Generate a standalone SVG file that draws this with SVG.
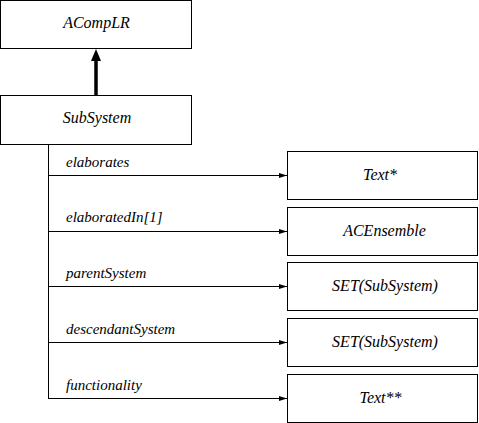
<svg xmlns="http://www.w3.org/2000/svg" width="479" height="423" viewBox="0 0 479 423">
<defs>
<marker id="ah" markerWidth="8" markerHeight="6" refX="8" refY="3" orient="auto" markerUnits="userSpaceOnUse">
<path d="M0,0.5 L8,3 L0,5.5 Z" fill="#000"/>
</marker>
</defs>
<rect width="479" height="423" fill="#fff"/>
<g id="ACompLR"><rect fill="#fff" stroke="#000" x="0.5" y="0.5" width="191" height="48"/><text x="96.5" y="28" font-family="Liberation Serif" font-size="16" font-style="italic" text-anchor="middle">ACompLR</text></g>
<g id="SubSystem"><rect fill="#fff" stroke="#000" x="0.5" y="95.5" width="191" height="49"/><text x="97" y="123" font-family="Liberation Serif" font-size="16" font-style="italic" text-anchor="middle">SubSystem</text></g>
<g id="TextStar"><rect fill="#fff" stroke="#000" x="287.5" y="151.5" width="190" height="48"/><text x="380" y="180" font-family="Liberation Serif" font-size="16" font-style="italic" text-anchor="middle">Text*</text></g>
<g id="ACEnsemble"><rect fill="#fff" stroke="#000" x="287.5" y="207.5" width="190" height="48"/><text x="384.5" y="236" font-family="Liberation Serif" font-size="16" font-style="italic" text-anchor="middle">ACEnsemble</text></g>
<g id="SetSubSystem1"><rect fill="#fff" stroke="#000" x="287.5" y="262.5" width="190" height="48"/><text x="385" y="291" font-family="Liberation Serif" font-size="16" font-style="italic" text-anchor="middle">SET(SubSystem)</text></g>
<g id="SetSubSystem2"><rect fill="#fff" stroke="#000" x="287.5" y="318.5" width="190" height="48"/><text x="385" y="347" font-family="Liberation Serif" font-size="16" font-style="italic" text-anchor="middle">SET(SubSystem)</text></g>
<g id="TextStarStar"><rect fill="#fff" stroke="#000" x="287.5" y="374.5" width="190" height="48"/><text x="380.5" y="403" font-family="Liberation Serif" font-size="16" font-style="italic" text-anchor="middle">Text**</text></g>
<g id="connectors">
<line x1="96" y1="95" x2="96" y2="60" stroke="#000" stroke-width="3.5"/>
<path d="M91,61 L96,49 L101,61 Z" fill="#000"/>
<g stroke="#000" fill="none">
<line x1="48.5" y1="145" x2="48.5" y2="398.5"/>
<line x1="48" y1="175.5" x2="287" y2="175.5" marker-end="url(#ah)"/>
<line x1="48" y1="231.5" x2="287" y2="231.5" marker-end="url(#ah)"/>
<line x1="48" y1="286.5" x2="287" y2="286.5" marker-end="url(#ah)"/>
<line x1="48" y1="342.5" x2="287" y2="342.5" marker-end="url(#ah)"/>
<line x1="48" y1="398.5" x2="287" y2="398.5" marker-end="url(#ah)"/>
</g>
<text x="66" y="167" font-family="Liberation Serif" font-size="15" font-style="italic">elaborates</text>
<text x="66" y="222" font-family="Liberation Serif" font-size="15" font-style="italic">elaboratedIn[1]</text>
<text x="66" y="278" font-family="Liberation Serif" font-size="15" font-style="italic">parentSystem</text>
<text x="66" y="334" font-family="Liberation Serif" font-size="15" font-style="italic">descendantSystem</text>
<text x="66" y="390" font-family="Liberation Serif" font-size="15" font-style="italic">functionality</text>
</g>
</svg>
